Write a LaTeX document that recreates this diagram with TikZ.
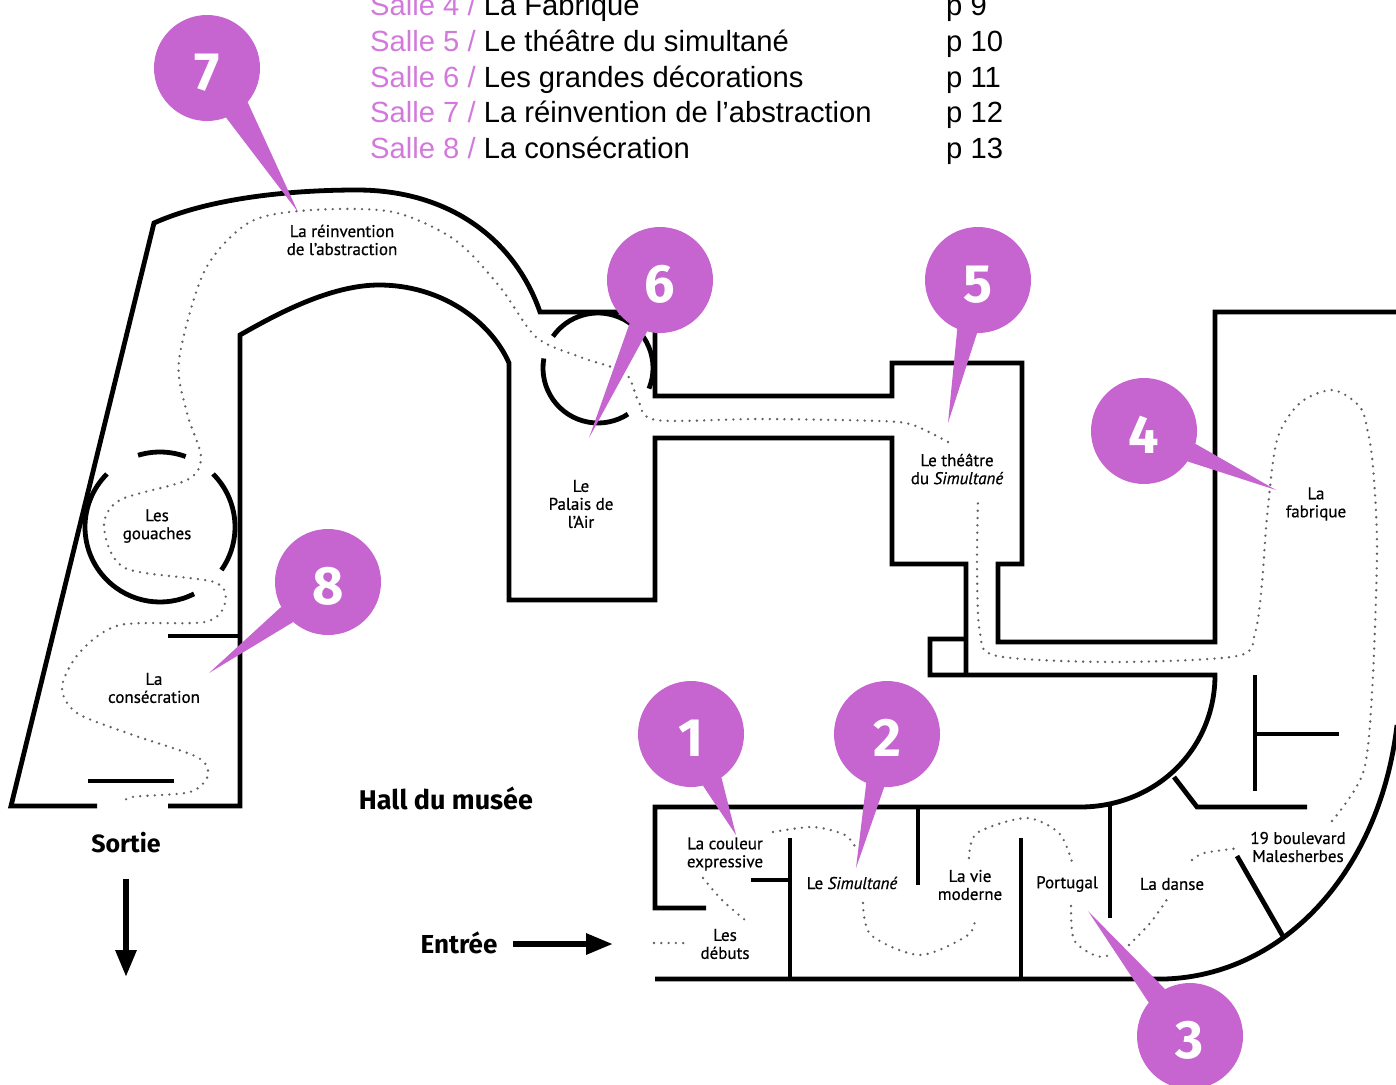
\documentclass[tikz,border=0pt]{standalone}
\usepackage{fontspec}
\setmainfont{Liberation Sans}
\newfontfamily\planfont[FakeBold=0.6]{PT Sans}
\newfontfamily\pinfont{Fira Sans}
\usetikzlibrary{arrows.meta}
\definecolor{orchid}{HTML}{C664D0}
\definecolor{sallecol}{HTML}{D27ADB}
\tikzset{
	wall/.style={line width=4.8pt,miter limit=10},
	route/.style={line width=2.6pt,black!62,line cap=round,dash pattern=on 0pt off 7.3pt},
	room/.style={font=\planfont\fontsize{17}{18}\selectfont,align=center,inner sep=0pt},
	place/.style={font=\pinfont\bfseries\fontsize{25}{28}\selectfont,inner sep=0pt},
	way/.style={line width=6pt,-{Triangle[length=27pt,width=20pt]}},
	pin/.style={circle,fill=orchid,minimum size=106pt,inner sep=0pt,outer sep=0pt,text=white,text height=44pt,text depth=0pt,font=\pinfont\bfseries\fontsize{54}{54}\selectfont},
	salle/.style={anchor=base west,inner sep=0pt,font=\fontsize{29.2}{30}\selectfont}
}
\begin{document}
\begin{tikzpicture}[x=1pt,y=-1pt]
\useasboundingbox (0,0) rectangle (1396,1084);
% outer walls
\draw[wall] (97,806) -- (11,806) -- (154,223) .. controls (210,198) and (290,190) .. (357,190) .. controls (450,190) and (515,240) .. (540,312) -- (655,312) -- (655,396) -- (892,396) -- (892,363) -- (1022,363) -- (1022,564) -- (998,564) -- (998,642) -- (1215,642) -- (1215,312) -- (1396,312);
\draw[wall] (168,806) -- (240,806) -- (240,335) .. controls (275,315) and (330,285) .. (379,285) .. controls (440,285) and (490,320) .. (509,363) -- (509,600) -- (655,600) -- (655,438) -- (892,438) -- (892,564) -- (966,564) -- (966,675);
\draw[wall] (966,639) -- (930,639) -- (930,675) -- (1215,675) .. controls (1215,750) and (1155,807) .. (1080,807) -- (655,807) -- (655,908) -- (706,908);
\draw[wall] (655,979) -- (1165,979) .. controls (1285,975) and (1380,870) .. (1397,725);
% inner walls
\draw[wall] (168,636) -- (240,636);
\draw[wall] (88,781) -- (174,781);
\draw[wall] (790,838) -- (790,979);
\draw[wall] (751,880) -- (790,880);
\draw[wall] (918,807) -- (918,885);
\draw[wall] (1021,838) -- (1021,979);
\draw[wall] (1110,805) -- (1110,918);
\draw[wall] (1237,856) -- (1284,938);
\draw[wall] (1174,777) -- (1197,807) -- (1307,807);
\draw[wall] (1255,675) -- (1255,791);
\draw[wall] (1255,734) -- (1339,734);
% round rooms
\draw[wall] (160,527) ++(107:75pt) arc[start angle=107,end angle=70,radius=75pt];
\draw[wall] (160,527) ++(135:75pt) arc[start angle=135,end angle=297,radius=75pt];
\draw[wall] (160,527) ++(45:75pt) arc[start angle=45,end angle=-35,radius=75pt];
\draw[wall] (598,368) ++(170:55pt) arc[start angle=170,end angle=303,radius=55pt];
\draw[wall] (598,368) ++(-22:55pt) arc[start angle=-22,end angle=145,radius=55pt];
% visit route
\draw[route] (654,943) -- (686,943);
\draw[route] plot[smooth] coordinates {(703,878) (722,900) (745,920)};
\draw[route] plot[smooth] coordinates {(773,832) (813,827) (845,835) (857,850)};
\draw[route] plot[smooth] coordinates {(863,903) (871,935) (920,955) (968,935) (975,917)};
\draw[route] plot[smooth] coordinates {(969,858) (977,833) (1026,818) (1059,833) (1072,862)};
\draw[route] plot[smooth] coordinates {(1071,906) (1074,940) (1096,956) (1110,955)};
\draw[route] plot[smooth] coordinates {(1129,945) (1151,922) (1170,895)};
\draw[route] plot[smooth] coordinates {(1192,860) (1204,853) (1240,848)};
\draw[route] plot[smooth] coordinates {(1332,821) (1363,773) (1372,693) (1377,550) (1373,467) (1368,433) (1360,407) (1333,390) (1300,403) (1277,440) (1267,517) (1262,583) (1255,633) (1237,656) (1113,662) (997,656) (980,633) (977,567) (978,500)};
\draw[route] plot[smooth] coordinates {(948,442) (913,425) (880,421) (760,419) (656,420) (638,400) (625,373) (580,357) (536,337) (500,287) (455,240) (393,212) (312,210) (250,222) (205,270) (179,360) (187,413) (201,457) (187,480) (120,500) (104,527) (125,568) (214,582) (225,603) (205,622) (120,625) (80,652) (62,687) (77,713) (133,735) (197,757) (208,775) (190,792) (132,797) (123,804)};
% room names
\node[room] (abstraction) at (342,240) {La réinvention\\de l’abstraction};
\node[room] (palais) at (581,504) {Le\\Palais de\\l’Air};
\node[room] (theatre) at (957,469) {Le théâtre\\du \textit{Simultané}};
\node[room] (fabrique) at (1316,504) {La\\fabrique};
\node[room] (gouaches) at (157,526) {Les\\gouaches};
\node[room] (consecration) at (154,688) {La\\consécration};
\node[room] (couleur) at (725,854) {La couleur\\expressive};
\node[room] (simultane) at (852,883) {Le \textit{Simultané}};
\node[room] (vie) at (970,885) {La vie\\moderne};
\node[room] (portugal) at (1067,884) {Portugal};
\node[room] (danse) at (1172,884) {La danse};
\node[room] (boulevard) at (1298,847) {19 boulevard\\Malesherbes};
\node[room] (debuts) at (725,944) {Les\\débuts};
\node[place,font=\pinfont\bfseries\fontsize{27}{28}\selectfont] (hall) at (446,798) {Hall du musée};
\node[place] (sortie) at (126,843) {Sortie};
\node[place,font=\pinfont\bfseries\fontsize{26}{28}\selectfont] (entree) at (459,943) {Entrée};
\coordinate (sortieend) at (126,977);
\coordinate (entreeend) at (613,944);
\draw[way,shorten <=25pt] (sortie.south) -- (sortieend);
\draw[way,shorten <=15pt] (entree.east |- entreeend) -- (entreeend);
% contents list
\foreach \y/\s/\t/\p in {15/4/La Fabrique/9,51/5/Le théâtre du simultané/10,87/6/Les grandes décorations/11,122/7/La réinvention de l’abstraction/12,158/8/La consécration/13}{
	\node[salle] (salle\s) at (370,\y) {\textcolor{sallecol}{Salle \s\ /} \t};
	\node[salle] (page\s) at (946,\y) {p \p};
}
% numbered pins
\foreach \n/\x/\y/\tx/\ty/\a/\b in {7/207/68/298/212/-69/-40,6/660/280/589/438/235/256,5/978/280/948/423/247/269,4/1144/431/1276/490/-35/-14,1/691/734/736/835/-77/-55,2/887/734/856/868/247/267,3/1190/1036/1088/911/118/141,8/328/582/209/673/208/229}{
	\node[pin] (pin\n) at (\x,\y) {\n};
	\coordinate (tip\n) at (\tx,\ty);
	\fill[orchid] (pin\n.\a) -- (tip\n) -- (pin\n.\b) -- cycle;
}
\end{tikzpicture}
\end{document}
